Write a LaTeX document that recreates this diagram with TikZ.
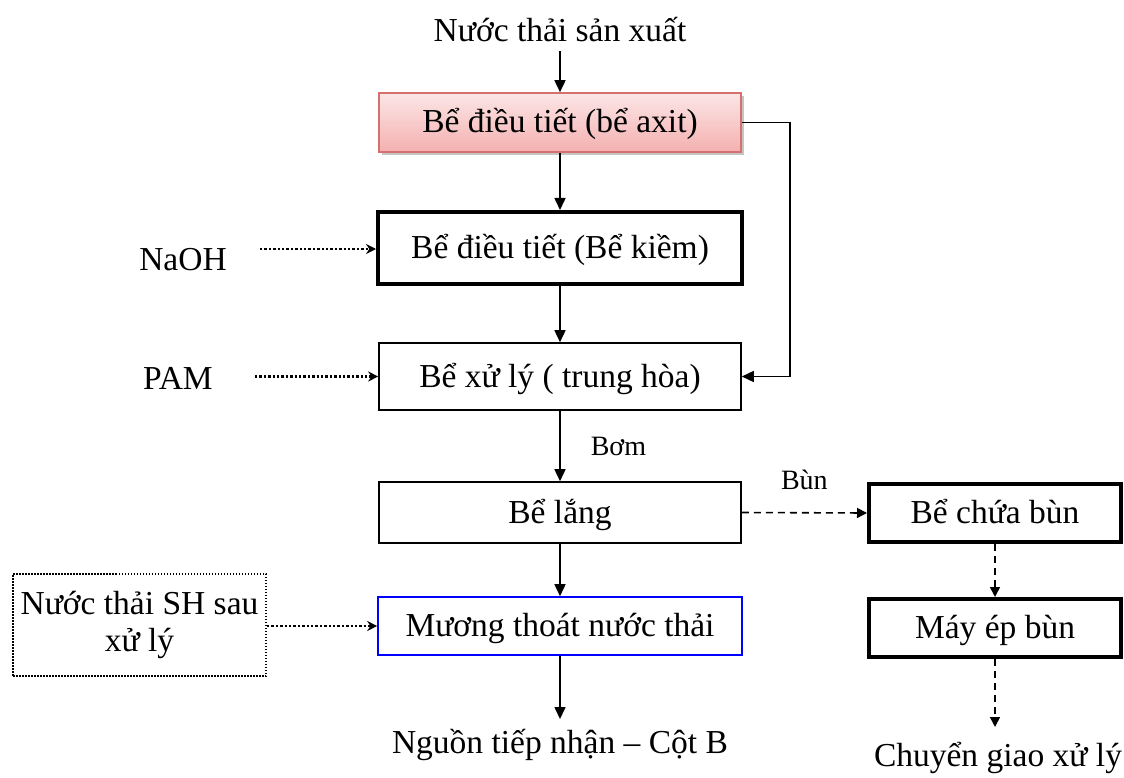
\documentclass[tikz,border=0pt]{standalone}
\usepackage{fontspec}
\setmainfont{Liberation Serif}
\usetikzlibrary{arrows.meta,shadows}
\definecolor{acidline}{RGB}{214,112,110}
\definecolor{acidtop}{RGB}{252,230,230}
\definecolor{acidbot}{RGB}{244,176,176}

\begin{document}
\begin{tikzpicture}[x=1pt,y=-1pt,line width=1.6pt,>={Triangle[length=12pt,width=11pt]},
  txt/.style={font=\fontsize{33.5}{37}\selectfont,inner sep=0pt},
  lbl/.style={font=\fontsize{28}{32}\selectfont,inner sep=0pt},
  tank/.style={draw,txt,rectangle,minimum width=362pt,minimum height=60pt,text height=24pt,text depth=3pt},
  heavy/.style={tank,line width=4pt},
  feed/.style={-{Stealth[length=10pt,width=10pt]},line width=2.6pt,dash pattern=on 2.4pt off 2pt},
  sludge/.style={-{Triangle[length=10pt,width=10pt]},line width=1.6pt,dash pattern=on 7pt off 5pt}]
\useasboundingbox (0,0) rectangle (1124,778);
\def\cx{560}
% ================= main column =================
\node[txt] (src) at (\cx,30) {Nước thải sản xuất};
\node[tank,draw=acidline,top color=acidtop,bottom color=acidbot,minimum height=59pt,
  drop shadow={shadow xshift=3pt,shadow yshift=-3pt,fill=black!45,opacity=0.5}]
  (acid) at (\cx,122.5) {Bể điều tiết (bể axit)};
\node[heavy,minimum width=364pt,minimum height=72pt] (alkali) at (\cx,248) {Bể điều tiết (Bể kiềm)};
\node[tank,minimum height=67pt] (neutral) at (\cx,376.5) {Bể xử lý ( trung hòa)};
\node[tank,minimum height=61pt] (settle) at (\cx,512.5) {Bể lắng};
\node[tank,draw=blue,minimum width=364pt,minimum height=58pt] (ditch) at (\cx,626) {Mương thoát nước thải};
\node[txt] (recv) at (\cx,745) {Nguồn tiếp nhận – Cột B};
\coordinate (recvin) at (\cx,719);
% ================= chemicals and inflows =================
\node[txt] (naoh) at (183,260) {NaOH};
\coordinate (naohout) at (260,249);
\node[txt] (pam) at (178,378) {PAM};
\coordinate (pamout) at (255,376.5);
\node[txt,draw,line width=2pt,dash pattern=on 1.5pt off 1.5pt,align=center,
  minimum width=253pt,minimum height=102pt] (domestic) at (139.5,625) {Nước thải SH sau\\xử lý};
% ================= sludge line =================
\node[heavy,minimum width=252pt,minimum height=58pt] (store) at (995,513) {Bể chứa bùn};
\node[heavy,minimum width=252pt,minimum height=58pt] (press) at (995,628) {Máy ép bùn};
\node[txt] (handover) at (998,758) {Chuyển giao xử lý};
\coordinate (handin) at (995,727);
% ================= connectors =================
\draw[->,shorten <=8pt] (src) -- (acid);
\draw[->] (acid) -- (alkali);
\draw[->] (alkali) -- (neutral);
\draw[->] (neutral) -- node[lbl,right=30pt] (pump) {Bơm} (settle);
\draw[->] (settle) -- (ditch);
\draw[->] (ditch) -- (recvin);
\draw[->] (acid.east) -- ++(48,0) |- (neutral.east);
\draw[feed] (naohout) -- (naohout -| alkali.west);
\draw[feed] (pamout) -- (neutral.west);
\draw[feed] (domestic.east |- ditch) -- (ditch.west);
\draw[sludge] (settle.east) -- node[lbl,above=22pt] (mud) {Bùn} (store.west);
\draw[sludge] (store) -- (press);
\draw[sludge] (press) -- (handin);
\end{tikzpicture}
\end{document}
